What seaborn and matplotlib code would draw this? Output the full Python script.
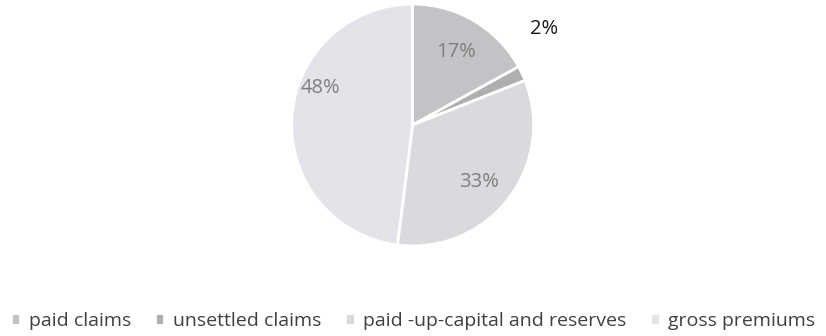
import matplotlib
matplotlib.use("Agg")
import matplotlib.pyplot as plt
import seaborn as sns
import numpy as np

categories = ["paid claims", "unsettled claims", "paid -up-capital and reserves", "gross premiums"]
values = [17, 2, 33, 48]
colors = ["#c2c3c6", "#aeafb1", "#d9dadd", "#e3e4ea"]
label_colors = ["#7f7f7f", "#1a1a1a", "#7f7f7f", "#7f7f7f"]

sns.set_theme(style="white")
plt.rcParams['font.family'] = ['Open Sans', 'DejaVu Sans']

fig = plt.figure(figsize=(8.26, 3.36), dpi=100)
ax = fig.add_axes([0.353, 0.268, 0.293, 0.720])

wedges, texts = ax.pie(values, colors=colors, startangle=90, counterclock=False,
                       wedgeprops=dict(edgecolor="white", linewidth=2))
ax.set_aspect("equal")
ax.set_xlim(-1.0, 1.0)
ax.set_ylim(-1.0, 1.0)

# label placement (radius fraction, angle offset from wedge mid)
label_r = [0.70, 1.35, 0.72, 0.82]
label_off = [0, 11, -3, -18]
for w, v, r, off, c in zip(wedges, values, label_r, label_off, label_colors):
    mid = np.deg2rad((w.theta1 + w.theta2) / 2 + off)
    ax.text(r * np.cos(mid), r * np.sin(mid), f"{v}%", ha="center", va="center",
            fontsize=14.5, color=c, clip_on=False)

fig.legend(wedges, categories, loc="center", bbox_to_anchor=(0.5, 0.045), ncol=4,
           frameon=False, fontsize=14, handlelength=0.5, handleheight=0.5,
           handletextpad=0.45, columnspacing=1.2, labelcolor="#404040")

fig.savefig("out.png", dpi=100)
